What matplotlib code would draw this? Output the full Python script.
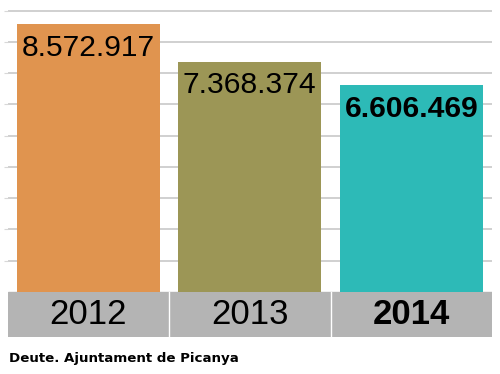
import matplotlib.pyplot as plt

years = ['2012', '2013', '2014']
debt = [8572917, 7368374, 6606469]
labels = ['8.572.917', '7.368.374', '6.606.469']
COLORS = ['#E0944F', '#9C9656', '#2DBAB7']

fig = plt.figure(figsize=(5, 3.74), dpi=100)
ax = fig.add_axes([0.015, 0.099, 0.969, 0.901])

x = range(len(years))
ax.set_xlim(-0.5, 2.5)
ax.set_ylim(-1440000, 9340000)

# grid lines every million
for v in range(1000000, 10000000, 1000000):
    ax.axhline(v, color='#C8C8C8', lw=1.2, zorder=0)

bars = ax.bar(x, debt, width=0.885, color=COLORS, zorder=2)

# grey band with the years
ax.axhspan(-1440000, 0, color='#B4B4B4', zorder=1)
for sep in [0.5, 1.5]:
    ax.plot([sep, sep], [-1440000, 0], color='white', lw=1, zorder=3)

for j, (yr, val, lab) in enumerate(zip(years, debt, labels)):
    w = 'bold' if j == 2 else 'normal'
    ax.text(j, -720000, yr, ha='center', va='center', fontsize=25,
            family='Liberation Sans', fontweight=w, zorder=4)
    ax.annotate(lab, (j, val), xytext=(0, -17), textcoords='offset points',
                ha='center', va='center', fontsize=21.6,
                family='Liberation Sans', fontweight=w, zorder=4)

for s in ax.spines.values():
    s.set_visible(False)
ax.set_xticks([])
ax.set_yticks(range(1000000, 10000000, 1000000))
ax.set_yticklabels([])
ax.tick_params(axis='y', length=3, color='#D8D8D8', pad=0)

fig.text(0.018, 0.032, 'Deute. Ajuntament de Picanya', fontsize=9.6,
         fontweight='bold', family='DejaVu Sans', va='baseline', ha='left')

fig.savefig('out.png', dpi=100)
